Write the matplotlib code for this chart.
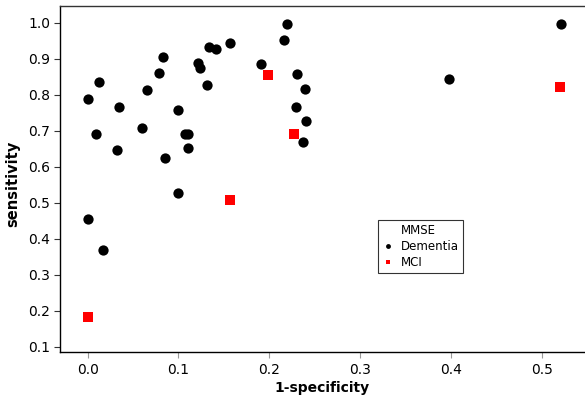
import numpy as np
from matplotlib import pyplot as plt
from matplotlib.lines import Line2D

# dementia (MMSE) points: 1-specificity, sensitivity
dem_fpr = [0.220, 0.216, 0.157, 0.134, 0.141, 0.083, 0.191, 0.121, 0.124, 0.230,
           0.079, 0.012, 0.131, 0.239, 0.065, 0.000, 0.035, 0.229, 0.100, 0.240,
           0.060, 0.009, 0.107, 0.111, 0.2375, 0.032, 0.111, 0.085, 0.099, 0.000,
           0.017, 0.521, 0.398]
dem_sens = [0.997, 0.953, 0.944, 0.931, 0.926, 0.905, 0.886, 0.888, 0.875, 0.857,
            0.861, 0.836, 0.826, 0.815, 0.812, 0.787, 0.767, 0.767, 0.758, 0.726,
            0.708, 0.690, 0.691, 0.691, 0.669, 0.646, 0.651, 0.625, 0.526, 0.454,
            0.368, 0.997, 0.844]

# MCI points
mci_fpr = [0.199, 0.2275, 0.157, 0.000, 0.5205]
mci_sens = [0.854, 0.690, 0.507, 0.182, 0.821]

xticks = [0.0, 0.1, 0.2, 0.3, 0.4, 0.5]
yticks = [0.1, 0.2, 0.3, 0.4, 0.5, 0.6, 0.7, 0.8, 0.9, 1.0]

W, H = 585, 396
fig = plt.figure(figsize=(W/100, H/100), dpi=100)
ax = fig.add_axes([60/W, (H-352)/H, (W-60)/W, 346/H])

ax.plot(dem_fpr, dem_sens, 'o', color='black', ms=7.4, mew=0, zorder=3)
ax.plot(mci_fpr, mci_sens, 's', color='red', ms=6.6, mew=0, zorder=3)

ax.set_xlim(-0.0305, 0.5477)
ax.set_ylim(0.086, 1.046)
ax.set_xticks(xticks)
ax.set_yticks(yticks)
ax.set_xticklabels([f"{v:.1f}" for v in xticks])
ax.set_yticklabels([f"{v:.1f}" for v in yticks])

ax.spines['right'].set_visible(False)
ax.spines['top'].set_color('#333333')
for s in ['left', 'bottom', 'top']:
    ax.spines[s].set_linewidth(1.0)
ax.tick_params(axis='x', length=4, color='#999999', labelsize=10, pad=4)
ax.tick_params(axis='y', length=4, color='#333333', labelsize=10, pad=3)

ax.set_xlabel('1-specificity', fontsize=10, fontweight='bold', labelpad=3)
ax.set_ylabel('sensitivity', fontsize=10.5, fontweight='bold')
ax.yaxis.set_label_coords(-0.076, 0.486)

handles = [Line2D([], [], linestyle='none', marker=None),
           Line2D([], [], linestyle='none', marker='o', color='black', ms=3.5, mew=0),
           Line2D([], [], linestyle='none', marker='s', color='red', ms=3.5, mew=0)]
leg = ax.legend(handles, ['MMSE', 'Dementia', 'MCI'], loc='upper left',
                bbox_to_anchor=(378/W, 1-220/H), bbox_transform=fig.transFigure,
                fontsize=8.5, frameon=True, fancybox=False, handlelength=1.0,
                handletextpad=0.6, labelspacing=0.25, borderpad=0.35,
                borderaxespad=0)
leg.get_frame().set_edgecolor('black')
leg.get_frame().set_linewidth(0.8)

fig.savefig('out.png', dpi=100)
